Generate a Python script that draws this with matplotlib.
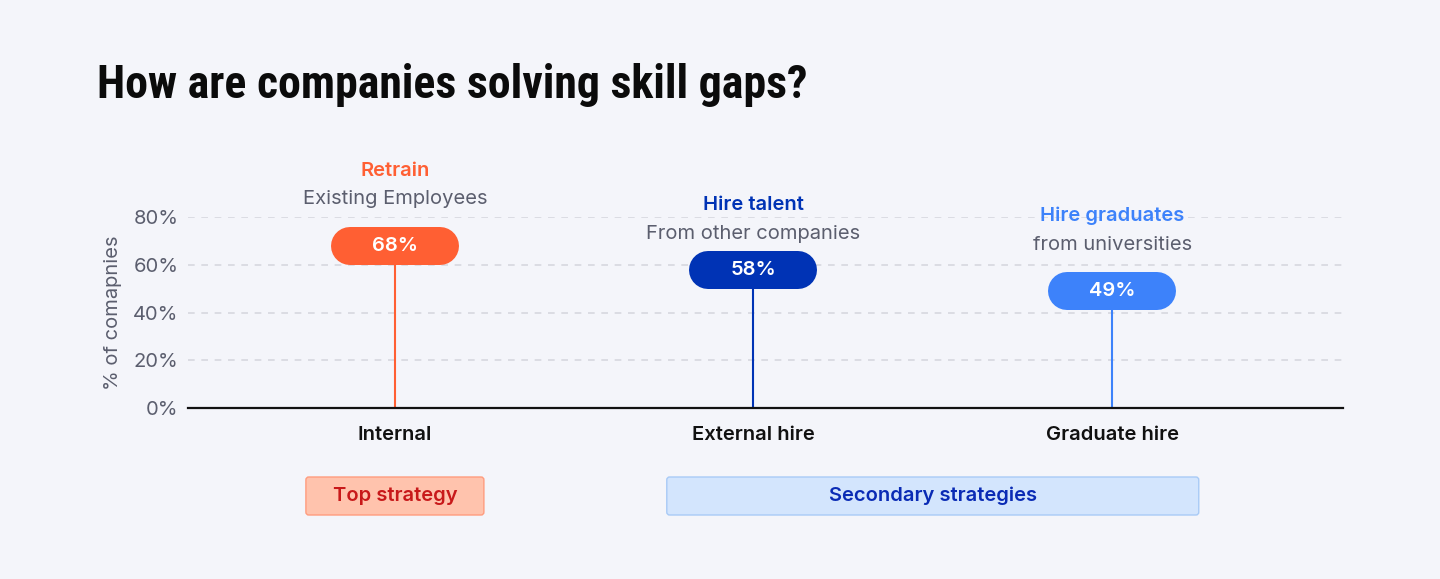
import matplotlib
matplotlib.use("Agg")
import matplotlib.pyplot as plt
import matplotlib.transforms as mtransforms
from matplotlib.patches import FancyBboxPatch

# ---- data ----
categories = ["Internal", "External hire", "Graduate hire"]
values = [68, 58, 49]
headline = ["Retrain", "Hire talent", "Hire graduates"]
subline = ["Existing Employees", "From other companies", "from universities"]
colors = ["#FF5F33", "#0033B5", "#3D82FA"]
yticks = [0, 20, 40, 60, 80]
ytick_labels = ["0%", "20%", "40%", "60%", "80%"]
groups = ["Top strategy", "Secondary strategies"]

BG = "#F4F5FA"
GRAY = "#5B5E6E"
FS = 14.5
plt.rcParams["font.family"] = ["Inter", "DejaVu Sans"]

fig = plt.figure(figsize=(14.4, 5.79), dpi=100, facecolor=BG)
W, H = 1440, 579
ax = fig.add_axes([188 / W, (H - 408) / H, (1343 - 188) / W, (408 - 217) / H])
ax.set_facecolor(BG)
x = list(range(len(categories)))
ax.set_xlim(-0.577, 2.644)
ax.set_ylim(0, 80)

for s in ["top", "right", "left"]:
    ax.spines[s].set_visible(False)
ax.spines["bottom"].set_linewidth(1.6)
ax.spines["bottom"].set_color("#111111")
ax.spines["bottom"].set_zorder(5)

ax.set_yticks(yticks)
ax.set_yticklabels(ytick_labels, fontsize=FS, color=GRAY)
ax.tick_params(axis="y", length=0, pad=7)
ax.set_xticks(x)
ax.set_xticklabels(categories, fontsize=FS, fontweight="semibold", color="#111111")
ax.tick_params(axis="x", length=0, pad=13)
for t in yticks[1:]:
    ax.axhline(t, color="#D6D8DF", lw=1.2, ls=(0, (4, 4)), zorder=1)

ax.set_ylabel("% of comapnies", fontsize=FS, color=GRAY, labelpad=8)

# offsets in points for the headline / subline labels
head_off = [54, 46.8, 54]
sub_off = [33.8, 25.9, 33.1]

for xi, v, c, h, s, ho, so in zip(x, values, colors, headline, subline, head_off, sub_off):
    ax.plot([xi, xi], [0, v], color=c, lw=1.5, zorder=3, solid_capstyle="butt")
    # pill: thick line with round caps (38 px tall, 128 px wide)
    half = (45 / 358.6)
    ax.plot([xi - half, xi + half], [v, v], color=c, lw=38 * 0.72,
            solid_capstyle="round", zorder=4)
    ax.text(xi, v, f"{v}%", ha="center", va="center", color="white",
            fontsize=FS, fontweight="semibold", zorder=6)
    ax.annotate(h, (xi, v), xytext=(0, ho), textcoords="offset points",
                ha="center", va="center", fontsize=FS, fontweight="semibold",
                color=c, annotation_clip=False)
    ax.annotate(s, (xi, v), xytext=(0, so), textcoords="offset points",
                ha="center", va="center", fontsize=FS, color=GRAY,
                annotation_clip=False)

# group boxes
trans = mtransforms.blended_transform_factory(ax.transData, fig.transFigure)
px = 1 / 358.6
box_specs = [
    (x[0], 178 * px, "#FFC3AD", "#FF9C7E", "#C8191A"),
    ((x[1] + x[2]) / 2, 532 * px, "#D3E5FD", "#A8CAF6", "#0A2BB5"),
]
y0 = (H - 515) / H
bh = 38 / H
for (cx, w, fc, ec, tc), label in zip(box_specs, groups):
    p = FancyBboxPatch((cx - w / 2, y0), w, bh,
                       boxstyle="round,pad=0,rounding_size=0.008",
                       mutation_aspect=(1 / H) / px,
                       transform=trans, facecolor=fc, edgecolor=ec, lw=1,
                       clip_on=False)
    ax.add_patch(p)
    ax.text(cx, y0 + bh / 2, label, transform=trans, ha="center", va="center",
            fontsize=FS, fontweight="semibold", color=tc)

fig.text(97 / W, 1 - 98 / H, "How are companies solving skill gaps?",
         fontsize=33, fontweight="bold", color="#0B0B0B", va="baseline", ha="left",
         family=["Roboto Condensed", "DejaVu Sans"])

fig.savefig("out.png", dpi=100, facecolor=BG)
